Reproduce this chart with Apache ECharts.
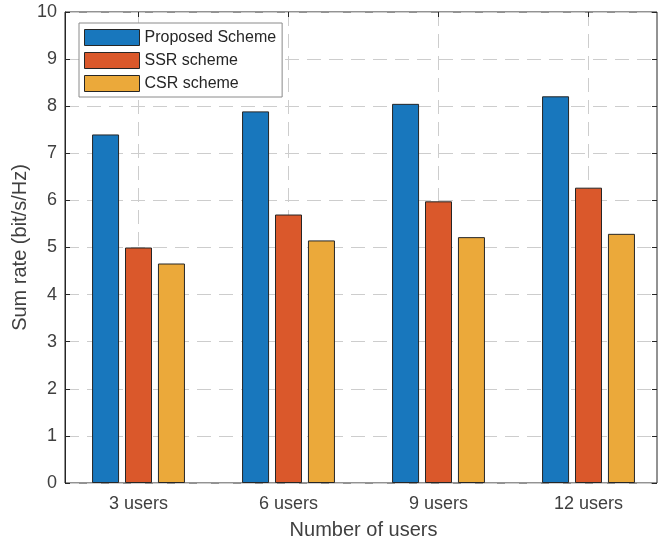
<!DOCTYPE html>
<html lang="en">
<head>
    <meta charset="UTF-8">
    <title>Sum rate</title>
    <script src="https://cdn.jsdelivr.net/npm/echarts@6/dist/echarts.min.js"></script>
    <style>
        html, body { margin: 0; padding: 0; background: #fff; }
    </style>
</head>
<body>
    <div id="chart" style="width: 658px; height: 541px;"></div>
    <script>
        // data
        var categories = ['3 users', '6 users', '9 users', '12 users']
        var proposed = [7.40, 7.89, 8.05, 8.21]
        var ssr = [5.00, 5.70, 5.98, 6.27]
        var csr = [4.66, 5.15, 5.22, 5.29]
        var seriesNames = ['Proposed Scheme', 'SSR scheme', 'CSR scheme']
        var colors = ['#1877BD', '#DA582B', '#EBA93A']

        var font = "'Liberation Sans', Arial, sans-serif"
        var ink = '#262626'
        var dash = { color: '#cdcdcd', width: 1, type: [14, 8] }

        function barSeries(name, values, color) {
            return {
                name: name,
                type: 'bar',
                xAxisIndex: 0,
                yAxisIndex: 0,
                barWidth: 27,
                barGap: '22%',
                itemStyle: { color: color, borderColor: ink, borderWidth: 1 },
                data: values
            }
        }

        var chart = echarts.init(document.getElementById('chart'))
        var option = {
            animation: false,
            backgroundColor: '#fff',
            textStyle: { fontFamily: font },
            grid: [
                // bars and category axis (runs a little past the right edge)
                { left: 63.5, width: 600, top: 12, bottom: 58, outerBoundsMode: 'none' },
                // frame, y labels, horizontal grid lines
                { left: 65, right: 1, top: 12, bottom: 58, outerBoundsMode: 'none', show: true,
                  borderColor: ink, borderWidth: 1, backgroundColor: 'transparent' }
            ],
            legend: {
                orient: 'vertical',
                left: 79,
                top: 23,
                data: seriesNames,
                icon: 'rect',
                itemWidth: 55,
                itemHeight: 16,
                itemGap: 6,
                itemTextGap: 5,
                padding: [6, 6, 5, 5],
                borderColor: '#8a8a8a',
                borderWidth: 1,
                backgroundColor: '#fff',
                itemStyle: { borderColor: ink, borderWidth: 1 },
                textStyle: { fontSize: 16, lineHeight: 16, color: ink, fontFamily: font }
            },
            xAxis: [{
                type: 'category',
                gridIndex: 0,
                data: categories,
                position: 'bottom',
                name: 'Number of users',
                nameLocation: 'middle',
                nameGap: 37,
                nameTextStyle: { fontSize: 20, color: '#404040', fontFamily: font },
                axisLine: { show: false },
                axisTick: { show: true, inside: true, length: 5, alignWithLabel: true,
                            lineStyle: { color: ink } },
                axisLabel: { fontSize: 18, color: '#404040', margin: 12, fontFamily: font },
                splitLine: { show: true, alignWithLabel: true, lineStyle: dash }
            }, {
                type: 'category',
                gridIndex: 0,
                data: categories,
                position: 'top',
                axisLine: { show: false },
                axisTick: { show: true, inside: true, length: 5, alignWithLabel: true,
                            lineStyle: { color: ink } },
                axisLabel: { show: false },
                splitLine: { show: false }
            }, {
                type: 'value',
                gridIndex: 1,
                min: 0,
                max: 1,
                show: false
            }],
            yAxis: [{
                type: 'value',
                gridIndex: 0,
                min: 0,
                max: 10,
                interval: 1,
                show: false
            }, {
                type: 'value',
                gridIndex: 1,
                min: 0,
                max: 10,
                interval: 1,
                position: 'left',
                name: 'Sum rate (bit/s/Hz)',
                nameLocation: 'middle',
                nameGap: 35,
                nameMoveOverlap: false,
                nameTextStyle: { fontSize: 20, color: '#404040', fontFamily: font },
                axisLine: { show: true, lineStyle: { color: ink } },
                axisTick: { show: true, inside: true, length: 5, lineStyle: { color: ink } },
                axisLabel: { fontSize: 18, color: '#404040', margin: 8, fontFamily: font },
                splitLine: { show: true, lineStyle: dash }
            }, {
                type: 'value',
                gridIndex: 1,
                min: 0,
                max: 10,
                interval: 1,
                position: 'right',
                axisLine: { show: false },
                axisTick: { show: true, inside: true, length: 5, lineStyle: { color: ink } },
                axisLabel: { show: false },
                splitLine: { show: false }
            }],
            series: [
                barSeries(seriesNames[0], proposed, colors[0]),
                barSeries(seriesNames[1], ssr, colors[1]),
                barSeries(seriesNames[2], csr, colors[2])
            ]
        }
        chart.setOption(option)
    </script>
</body>
</html>
